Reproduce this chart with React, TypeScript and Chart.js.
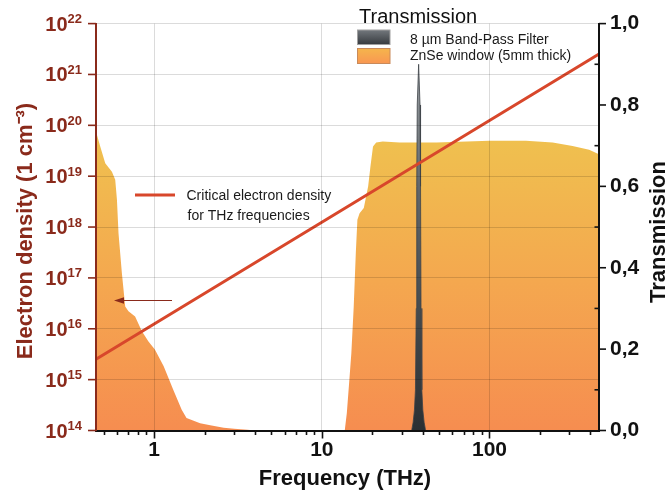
import React, { useEffect, useRef } from 'react';
import { Chart, registerables } from 'chart.js';

Chart.register(...registerables);

// ---------------- data ----------------
const critFreq = [0.45, 1, 10, 100, 450];
const critDensity = [2.52e15, 1.245e16, 1.245e18, 1.245e20, 2.52e21];

const znseFreq = [
  0.45, 0.477, 0.511, 0.56, 0.586, 0.6, 0.613, 0.642, 0.672, 0.703, 0.77, 0.845, 0.925, 1.01,
  1.14, 1.3, 1.46, 1.56, 1.88, 2.2, 2.6, 3.0, 3.6, 4.0, 13.7, 14.1, 14.5, 15.0, 15.5, 15.95,
  16.3, 16.8, 17.8, 18.9, 19.5, 20.2, 21.1, 23.1, 29.1, 48.3, 100, 165, 238, 313, 393, 450,
];
const znseTrans = [
  0.735, 0.698, 0.657, 0.636, 0.616, 0.567, 0.485, 0.387, 0.305, 0.293, 0.28, 0.244, 0.219, 0.199,
  0.158, 0.1, 0.051, 0.031, 0.018, 0.012, 0.007, 0.004, 0.002, 0, 0, 0.043, 0.109, 0.19, 0.305, 0.436,
  0.518, 0.534, 0.547, 0.6, 0.649, 0.698, 0.708, 0.71, 0.708, 0.708, 0.712, 0.712, 0.708, 0.699, 0.69, 0.679,
];

const filterFreq = [34.35, 35.05, 35.68, 36.18, 36.58, 36.83, 37.08, 37.8, 38.53, 38.8, 39.06, 39.49, 40.04, 40.76, 41.6];
const filterTrans = [0, 0.02, 0.05, 0.1, 0.3, 0.6, 0.8, 0.9, 0.8, 0.6, 0.3, 0.1, 0.05, 0.02, 0];

const xMajorTicks = [1, 10, 100];
const xMinorTicks = [0.5, 0.6, 0.7, 0.8, 0.9, 2, 3, 4, 5, 6, 7, 8, 9, 20, 30, 40, 50, 60, 70, 80, 90, 200, 300, 400];
const densityExponents = [14, 15, 16, 17, 18, 19, 20, 21, 22];
const transTicks = [0, 0.1, 0.2, 0.3, 0.4, 0.5, 0.6, 0.7, 0.8, 0.9, 1.0];

const legendTitle = 'Transmission';
const filterLabel = '8 µm Band-Pass Filter';
const znseLabel = 'ZnSe window (5mm thick)';
const critLabelLines = ['Critical electron density', 'for THz frequencies'];
const xTitle = 'Frequency (THz)';
const yLeftTitle = 'Electron density (1 cm⁻³)';
const yRightTitle = 'Transmission';

// ---------------- styles ----------------
const FONT = '"Liberation Sans", Arial, Helvetica, sans-serif';
const BROWN = '#8a2a1b';
const RED = '#d8472b';
const GRID = 'rgba(0,0,0,0.14)';

const customPlugin = {
  id: 'customDraw',
  afterDraw(chart: any) {
    const ctx = chart.ctx as CanvasRenderingContext2D;
    const { left, right, bottom } = chart.chartArea;
    const xs = chart.scales.x;
    const yl = chart.scales.yL;
    const yr = chart.scales.yR;
    ctx.save();

    // x ticks
    ctx.strokeStyle = '#111';
    ctx.lineWidth = 1.6;
    const allX = [...xMinorTicks, ...xMajorTicks];
    for (const v of allX) {
      const px = Math.round(xs.getPixelForValue(v)) + 0.5;
      const len = xMajorTicks.includes(v) ? 8 : 4.5;
      ctx.beginPath();
      ctx.moveTo(px, bottom);
      ctx.lineTo(px, bottom + len);
      ctx.stroke();
    }

    // left ticks + labels
    ctx.strokeStyle = BROWN;
    ctx.fillStyle = BROWN;
    for (const e of densityExponents) {
      const py = yl.getPixelForValue(Math.pow(10, e));
      ctx.beginPath();
      ctx.moveTo(left - 8, py);
      ctx.lineTo(left, py);
      ctx.stroke();
      ctx.font = `bold 13px ${FONT}`;
      const sup = String(e);
      const w2 = ctx.measureText(sup).width;
      ctx.font = `bold 20px ${FONT}`;
      const w1 = ctx.measureText('10').width;
      const xr = 82;
      ctx.textAlign = 'left';
      ctx.textBaseline = 'alphabetic';
      ctx.fillText('10', xr - w2 - w1, py + 7);
      ctx.font = `bold 13px ${FONT}`;
      ctx.fillText(sup, xr - w2, py - 0.5);
    }

    // right ticks
    ctx.strokeStyle = '#111';
    for (const v of transTicks) {
      const py = yr.getPixelForValue(v);
      const major = Math.round(v * 10) % 2 === 0;
      ctx.beginPath();
      if (major) {
        ctx.moveTo(right, py);
        ctx.lineTo(right + 7, py);
      } else {
        ctx.moveTo(right - 4.5, py);
        ctx.lineTo(right, py);
      }
      ctx.stroke();
    }

    // axis titles
    ctx.fillStyle = BROWN;
    ctx.font = `bold 22px ${FONT}`;
    ctx.textAlign = 'center';
    ctx.textBaseline = 'alphabetic';
    ctx.save();
    ctx.translate(32, 231);
    ctx.rotate(-Math.PI / 2);
    ctx.fillText(yLeftTitle, 0, 0);
    ctx.restore();

    ctx.fillStyle = '#111';
    ctx.save();
    ctx.translate(665, 232);
    ctx.rotate(-Math.PI / 2);
    ctx.fillText(yRightTitle, 0, 0);
    ctx.restore();

    ctx.fillText(xTitle, 345, 485);

    // legend
    ctx.textAlign = 'left';
    ctx.font = `20px ${FONT}`;
    ctx.fillStyle = '#111';
    ctx.fillText(legendTitle, 359, 23);

    let g = ctx.createLinearGradient(0, 30, 0, 44.5);
    g.addColorStop(0, '#72777c');
    g.addColorStop(1, '#373b3f');
    ctx.fillStyle = g;
    ctx.fillRect(357.5, 30, 32.5, 14.5);
    ctx.strokeStyle = '#a0a0a0';
    ctx.lineWidth = 1;
    ctx.strokeRect(357.5, 30, 32.5, 14.5);

    g = ctx.createLinearGradient(0, 48.5, 0, 63.5);
    g.addColorStop(0, '#f5b54c');
    g.addColorStop(1, '#f99752');
    ctx.fillStyle = g;
    ctx.fillRect(357.5, 48.5, 32.5, 15);
    ctx.strokeStyle = '#c98a5a';
    ctx.strokeRect(357.5, 48.5, 32.5, 15);

    ctx.font = `14px ${FONT}`;
    ctx.fillStyle = '#1a1a1a';
    ctx.fillText(filterLabel, 410, 44);
    ctx.fillText(znseLabel, 410, 60);

    // critical density label
    ctx.strokeStyle = RED;
    ctx.lineWidth = 3;
    ctx.beginPath();
    ctx.moveTo(135, 195);
    ctx.lineTo(175, 195);
    ctx.stroke();
    ctx.fillText(critLabelLines[0], 186.5, 200);
    ctx.fillText(critLabelLines[1], 187.5, 220);

    // arrow
    ctx.strokeStyle = BROWN;
    ctx.fillStyle = BROWN;
    ctx.lineWidth = 1.2;
    ctx.beginPath();
    ctx.moveTo(172, 300.5);
    ctx.lineTo(122, 300.5);
    ctx.stroke();
    ctx.beginPath();
    ctx.moveTo(114, 300.5);
    ctx.lineTo(124, 297.2);
    ctx.lineTo(124, 303.8);
    ctx.closePath();
    ctx.fill();

    ctx.restore();
  },
};

export default function App() {
  const canvasRef = useRef<HTMLCanvasElement | null>(null);

  useEffect(() => {
    const canvas = canvasRef.current;
    if (!canvas) return;

    const znseFill = (c: any) => {
      const chart = c.chart;
      const yr = chart.scales?.yR;
      if (!chart.chartArea || !yr) return '#f4a64f';
      const g = chart.ctx.createLinearGradient(0, yr.getPixelForValue(0.74), 0, yr.getPixelForValue(0));
      g.addColorStop(0, '#efc24f');
      g.addColorStop(0.5, '#f4a84f');
      g.addColorStop(1, '#f68d50');
      return g;
    };
    const filterFill = (c: any) => {
      const chart = c.chart;
      const yr = chart.scales?.yR;
      if (!chart.chartArea || !yr) return '#555a5e';
      const g = chart.ctx.createLinearGradient(0, yr.getPixelForValue(0.9), 0, yr.getPixelForValue(0));
      g.addColorStop(0, '#9a9fa3');
      g.addColorStop(0.35, '#5f6569');
      g.addColorStop(1, '#2b3033');
      return g;
    };

    const chart = new Chart(canvas, {
      type: 'line',
      data: {
        datasets: [
          {
            label: critLabelLines.join(' '),
            data: critFreq.map((f, i) => ({ x: f, y: critDensity[i] })),
            yAxisID: 'yL',
            borderColor: RED,
            borderWidth: 3,
            pointRadius: 0,
            fill: false,
            tension: 0,
            order: 0,
          },
          {
            label: filterLabel,
            data: filterFreq.map((f, i) => ({ x: f, y: filterTrans[i] })),
            yAxisID: 'yR',
            borderColor: '#3e4347',
            borderWidth: 0.8,
            backgroundColor: filterFill,
            fill: 'origin',
            pointRadius: 0,
            tension: 0,
            order: 1,
          },
          {
            label: znseLabel,
            data: znseFreq.map((f, i) => ({ x: f, y: znseTrans[i] })),
            yAxisID: 'yR',
            borderColor: 'transparent',
            borderWidth: 0,
            backgroundColor: znseFill,
            fill: 'origin',
            pointRadius: 0,
            tension: 0,
            order: 2,
          },
        ],
      },
      options: {
        responsive: false,
        animation: false,
        layout: { padding: { top: 23.5, left: 0, right: 0, bottom: 0 } },
        plugins: {
          legend: { display: false },
          tooltip: { enabled: false },
        },
        scales: {
          x: {
            type: 'logarithmic',
            position: 'bottom',
            min: 0.45,
            max: 450,
            afterBuildTicks: (s: any) => {
              s.ticks = [...xMinorTicks, ...xMajorTicks]
                .sort((a, b) => a - b)
                .map((v) => ({ value: v, major: xMajorTicks.includes(v) }));
            },
            afterFit: (s: any) => {
              s.height = 61.5;
            },
            ticks: {
              autoSkip: false,
              maxRotation: 0,
              minRotation: 0,
              padding: 7,
              color: '#111',
              font: { family: FONT, size: 21, weight: 'bold' },
              callback: (v: any) => (xMajorTicks.includes(Number(v)) ? String(v) : ''),
            },
            grid: {
              color: (c: any) => (c.tick && xMajorTicks.includes(c.tick.value) ? GRID : 'transparent'),
              drawTicks: false,
              z: 1,
            },
            border: { color: '#111', width: 2, z: 2 },
          },
          yL: {
            type: 'logarithmic',
            position: 'left',
            min: 1e14,
            max: 1e22,
            afterBuildTicks: (s: any) => {
              s.ticks = densityExponents.map((e) => ({ value: Math.pow(10, e) }));
            },
            afterFit: (s: any) => {
              s.width = 96;
            },
            ticks: { display: false },
            grid: { color: GRID, drawTicks: false, z: 1 },
            border: { color: BROWN, width: 2, z: 2 },
          },
          yR: {
            type: 'linear',
            position: 'right',
            min: 0,
            max: 1,
            afterBuildTicks: (s: any) => {
              s.ticks = transTicks.map((v) => ({ value: v }));
            },
            afterFit: (s: any) => {
              s.width = 69;
            },
            ticks: {
              autoSkip: false,
              padding: 11,
              color: '#111',
              font: { family: FONT, size: 21, weight: 'bold' },
              callback: (v: any) => {
                const n = Math.round(Number(v) * 10);
                return n % 2 === 0 ? (n / 10).toFixed(1).replace('.', ',') : '';
              },
            },
            grid: { drawOnChartArea: false, drawTicks: false },
            border: { color: '#111', width: 2, z: 2 },
          },
        },
      } as any,
      plugins: [customPlugin],
    });

    return () => {
      chart.destroy();
    };
  }, []);

  return (
    <div style={{ position: 'absolute', left: 0, top: 0, width: 668, height: 492, background: '#fff' }}>
      <canvas ref={canvasRef} width={668} height={492} style={{ display: 'block' }} />
    </div>
  );
}
